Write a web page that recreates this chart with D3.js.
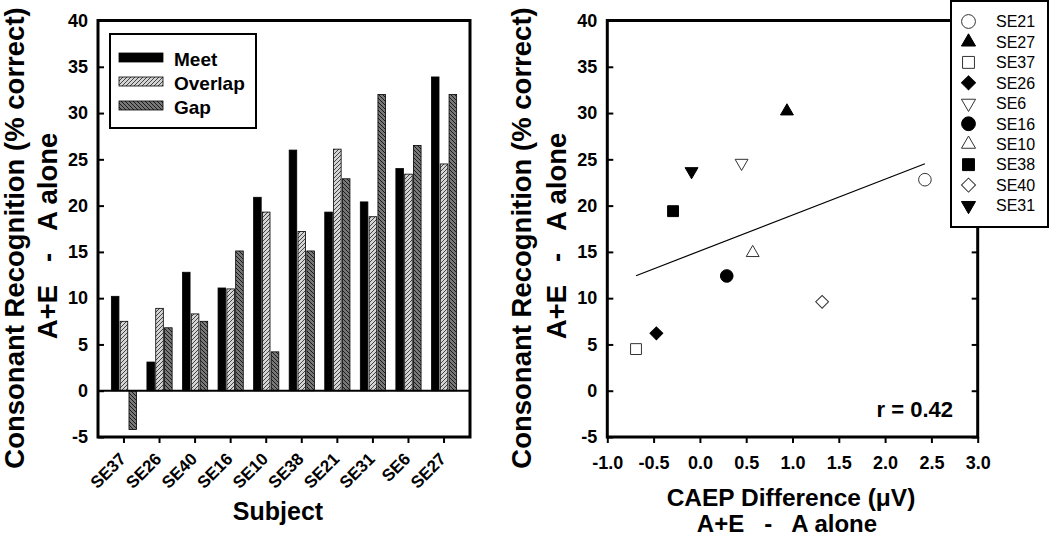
<!DOCTYPE html>
<html>
<head>
<meta charset="utf-8">
<script src="https://cdn.jsdelivr.net/npm/d3@7"></script>
<style>
  body { margin: 0; background: #fff; }
  svg { display: block; font-family: 'Liberation Sans', Arial, sans-serif; }
  .pre { white-space: pre; }
</style>
</head>
<body>
<svg id="chart" width="1050" height="536"></svg>
<script>
// bar chart data
const subjects = ['SE37', 'SE26', 'SE40', 'SE16', 'SE10', 'SE38', 'SE21', 'SE31', 'SE6', 'SE27'];
const meet = [10.2, 3.1, 12.8, 11.1, 20.9, 26.0, 19.3, 20.4, 24.0, 33.9];
const overlap = [7.5, 8.9, 8.3, 11.0, 19.3, 17.2, 26.1, 18.8, 23.4, 24.5];
const gap = [-4.2, 6.8, 7.5, 15.1, 4.2, 15.1, 22.9, 32.0, 26.5, 32.0];
const seriesNames = ['Meet', 'Overlap', 'Gap'];

// scatter data
const scatterIds = ['SE21', 'SE27', 'SE37', 'SE26', 'SE6', 'SE16', 'SE10', 'SE38', 'SE40', 'SE31'];
const caepDiff = [2.43, 0.94, -0.69, -0.47, 0.45, 0.29, 0.57, -0.29, 1.32, -0.09];
const consDiff = [22.8, 30.2, 4.5, 6.2, 24.6, 12.4, 14.9, 19.4, 9.6, 23.7];
const shapes = ['circle', 'triangle', 'square', 'diamond', 'triangleDown', 'circle', 'triangle', 'square', 'diamond', 'triangleDown'];
const filled = [false, true, false, true, false, true, false, true, false, true];

const yTicks = [-5, 0, 5, 10, 15, 20, 25, 30, 35, 40];
const xTicks = [-1, -0.5, 0, 0.5, 1, 1.5, 2, 2.5, 3];

const svg = d3.select('#chart');
const yTop = 20.5, yBot = 437;

// hatch patterns
const defs = svg.append('defs');
const pOver = defs.append('pattern').attr('id', 'hatchOverlap')
  .attr('patternUnits', 'userSpaceOnUse').attr('width', 4).attr('height', 4);
pOver.append('rect').attr('width', 4).attr('height', 4).attr('fill', '#d4d4d4');
pOver.append('path').attr('d', 'M-1,1 l2,-2 M0,4 l4,-4 M3,5 l2,-2')
  .attr('stroke', '#333').attr('stroke-width', 0.9);
const pGap = defs.append('pattern').attr('id', 'hatchGap')
  .attr('patternUnits', 'userSpaceOnUse').attr('width', 4).attr('height', 4);
pGap.append('rect').attr('width', 4).attr('height', 4).attr('fill', '#777');
pGap.append('path').attr('d', 'M-1,3 l2,2 M0,0 l4,4 M3,-1 l2,2')
  .attr('stroke', '#111').attr('stroke-width', 0.9);

const fills = ['#000', 'url(#hatchOverlap)', 'url(#hatchGap)'];

const y = d3.scaleLinear().domain([-5, 40]).range([yBot, yTop]);

// ---------- left: bar chart ----------
const L = { x0: 98, x1: 470 };
const x = d3.scaleBand().domain(subjects).range([L.x0, L.x1]).paddingInner(0).paddingOuter(0.23);
const xs = d3.scaleBand().domain(seriesNames).range([-12.6, 12.6]).paddingInner(0.14);

const values = [meet, overlap, gap];
const bars = [];
subjects.forEach((s, i) => {
  seriesNames.forEach((n, j) => bars.push({ s, n, j, v: values[j][i] }));
});

const left = svg.append('g');
left.selectAll('rect.bar').data(bars).enter().append('rect')
  .attr('class', 'bar')
  .attr('x', d => x(d.s) + x.bandwidth() / 2 + xs(d.n))
  .attr('width', xs.bandwidth())
  .attr('y', d => y(Math.max(0, d.v)))
  .attr('height', d => Math.abs(y(d.v) - y(0)))
  .attr('fill', d => fills[d.j])
  .attr('stroke', '#000').attr('stroke-width', 0.8);

// zero line
left.append('line').attr('x1', L.x0).attr('x2', L.x1).attr('y1', y(0)).attr('y2', y(0))
  .attr('stroke', '#000').attr('stroke-width', 2);

// y axis
const yAxisL = left.append('g').attr('transform', `translate(${L.x0},0)`)
  .call(d3.axisLeft(y).tickValues(yTicks).tickSize(-6).tickPadding(10).tickFormat(d => String(d)));
// x axis
const xAxisL = left.append('g').attr('transform', `translate(0,${yBot})`)
  .call(d3.axisBottom(x).tickSize(6).tickFormat(''));
[yAxisL, xAxisL].forEach(g => {
  g.select('.domain').remove();
  g.selectAll('.tick line').attr('stroke', '#000').attr('stroke-width', 2);
  g.selectAll('text').attr('fill', '#000').style('font-size', '18px').style('font-weight', 'bold')
    .style('font-family', "'Liberation Sans', Arial, sans-serif");
});
left.append('rect').attr('x', L.x0).attr('y', yTop).attr('width', L.x1 - L.x0).attr('height', yBot - yTop)
  .attr('fill', 'none').attr('stroke', '#000').attr('stroke-width', 3);

// rotated subject labels
left.selectAll('text.subj').data(subjects).enter().append('text')
  .attr('class', 'subj')
  .attr('transform', d => `translate(${x(d) + x.bandwidth() / 2 + 3},${yBot + 23}) rotate(-45)`)
  .attr('text-anchor', 'end')
  .style('font-size', '17px').style('font-weight', 'bold')
  .text(d => d);

// legend
const lg = left.append('g');
lg.append('rect').attr('x', 110).attr('y', 34).attr('width', 146).attr('height', 94)
  .attr('fill', '#fff').attr('stroke', '#000').attr('stroke-width', 2);
seriesNames.forEach((n, j) => {
  const ry = 53 + j * 24;
  lg.append('rect').attr('x', 119).attr('y', ry).attr('width', 44).attr('height', 9)
    .attr('fill', fills[j]).attr('stroke', '#000').attr('stroke-width', 0.8);
  lg.append('text').attr('x', 174).attr('y', ry + 12.5).style('font-size', '19px').style('font-weight', 'bold').text(n);
});

// axis titles
left.append('text').attr('transform', 'translate(24,238) rotate(-90)').attr('text-anchor', 'middle')
  .style('font-size', '27.5px').style('font-weight', 'bold').text('Consonant Recognition (% correct)');
left.append('text').attr('class', 'pre').attr('transform', 'translate(57,236) rotate(-90)').attr('text-anchor', 'middle')
  .style('font-size', '27.5px').style('font-weight', 'bold').text('A+E   -   A alone');
left.append('text').attr('x', 278).attr('y', 520).attr('text-anchor', 'middle')
  .style('font-size', '25px').style('font-weight', 'bold').text('Subject');

// ---------- right: scatter ----------
const R = { x0: 607.3, x1: 977.7 };
const xr = d3.scaleLinear().domain([-1, 3]).range([R.x0, R.x1]);
const right = svg.append('g');

const yAxisR = right.append('g').attr('transform', `translate(${R.x0},0)`)
  .call(d3.axisLeft(y).tickValues(yTicks).tickSize(-6).tickPadding(10).tickFormat(d => String(d)));
const yAxisR2 = right.append('g').attr('transform', `translate(${R.x1},0)`)
  .call(d3.axisRight(y).tickValues(yTicks).tickSize(-6).tickFormat(''));
const xAxisR = right.append('g').attr('transform', `translate(0,${yBot})`)
  .call(d3.axisBottom(xr).tickValues(xTicks).tickSize(6).tickPadding(13).tickFormat(d => d.toFixed(1)));
[yAxisR, yAxisR2, xAxisR].forEach(g => {
  g.select('.domain').remove();
  g.selectAll('.tick line').attr('stroke', '#000').attr('stroke-width', 2);
  g.selectAll('text').attr('fill', '#000').style('font-size', '18px').style('font-weight', 'bold')
    .style('font-family', "'Liberation Sans', Arial, sans-serif");
});
right.append('rect').attr('x', R.x0).attr('y', yTop).attr('width', R.x1 - R.x0).attr('height', yBot - yTop)
  .attr('fill', 'none').attr('stroke', '#000').attr('stroke-width', 3);

// regression line
const pts = caepDiff.map((v, i) => [v, consDiff[i]]);
const mx = d3.mean(caepDiff), my = d3.mean(consDiff);
const sxy = d3.sum(pts, p => (p[0] - mx) * (p[1] - my));
const sxx = d3.sum(pts, p => (p[0] - mx) ** 2);
const syy = d3.sum(pts, p => (p[1] - my) ** 2);
const slope = sxy / sxx, icpt = my - slope * mx;
const r = sxy / Math.sqrt(sxx * syy);
const [xmin, xmax] = d3.extent(caepDiff);
right.append('line')
  .attr('x1', xr(xmin)).attr('y1', y(icpt + slope * xmin))
  .attr('x2', xr(xmax)).attr('y2', y(icpt + slope * xmax))
  .attr('stroke', '#000').attr('stroke-width', 1.2);

function symPath(shape, k) {
  if (shape === 'circle') return d3.symbol(d3.symbolCircle, 125 * k)();
  if (shape === 'square') return d3.symbol(d3.symbolSquare, 118 * k)();
  if (shape === 'diamond') return d3.symbol(d3.symbolSquare, 82 * k)();
  return d3.symbol(d3.symbolTriangle, 72 * k)();
}
function symRot(shape) {
  if (shape === 'diamond') return 45;
  if (shape === 'triangleDown') return 180;
  return 0;
}

right.selectAll('path.pt').data(scatterIds).enter().append('path')
  .attr('class', 'pt')
  .attr('d', (d, i) => symPath(shapes[i], 1))
  .attr('transform', (d, i) => `translate(${xr(caepDiff[i])},${y(consDiff[i])}) rotate(${symRot(shapes[i])})`)
  .attr('fill', (d, i) => filled[i] ? '#000' : '#fff')
  .attr('stroke', (d, i) => filled[i] ? '#000' : '#333')
  .attr('stroke-width', 1);

right.append('text').attr('x', 953).attr('y', 417).attr('text-anchor', 'end')
  .style('font-size', '22px').style('font-weight', 'bold').text('r = ' + r.toFixed(2));

// scatter legend
const rl = right.append('g');
rl.append('rect').attr('x', 951).attr('y', 1).attr('width', 97).attr('height', 226)
  .attr('fill', '#fff').attr('stroke', '#000').attr('stroke-width', 2);
scatterIds.forEach((id, i) => {
  const cy = 21.5 + i * 20.45;
  rl.append('path').attr('d', symPath(shapes[i], 1.2))
    .attr('transform', `translate(968.5,${cy}) rotate(${symRot(shapes[i])})`)
    .attr('fill', filled[i] ? '#000' : '#fff')
    .attr('stroke', filled[i] ? '#000' : '#333').attr('stroke-width', 1);
  rl.append('text').attr('x', 996).attr('y', cy + 5.8).style('font-size', '16px').text(id);
});

right.append('text').attr('transform', 'translate(531,238) rotate(-90)').attr('text-anchor', 'middle')
  .style('font-size', '27.5px').style('font-weight', 'bold').text('Consonant Recognition (% correct)');
right.append('text').attr('class', 'pre').attr('transform', 'translate(566,236) rotate(-90)').attr('text-anchor', 'middle')
  .style('font-size', '27.5px').style('font-weight', 'bold').text('A+E   -   A alone');
right.append('text').attr('x', 791).attr('y', 506).attr('text-anchor', 'middle')
  .style('font-size', '24.5px').style('font-weight', 'bold').text('CAEP Difference (\u03bcV)');
right.append('text').attr('class', 'pre').attr('x', 787).attr('y', 532).attr('text-anchor', 'middle')
  .style('font-size', '24px').style('font-weight', 'bold').text('A+E   -   A alone');
</script>
</body>
</html>
